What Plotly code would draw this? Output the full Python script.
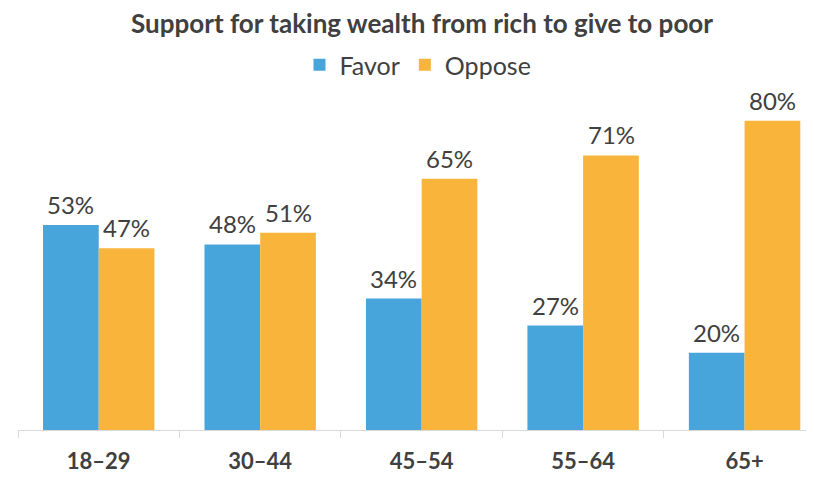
import plotly.graph_objects as go

# data
age_groups = ['18–29', '30–44', '45–54', '55–64', '65+']
favor = [53, 48, 34, 27, 20]
oppose = [47, 51, 65, 71, 80]

BLUE = '#47A5DB'
ORANGE = '#F9B43C'
TEXT = '#404040'
FONT = 'Lato'

# page body has an 8px margin, so the figure is drawn shifted by 8px
OFF = 8

fig = go.Figure()

fig.add_trace(go.Bar(x=age_groups, y=favor, name='Favor',
                     marker=dict(color=BLUE, line=dict(width=0))))
fig.add_trace(go.Bar(x=age_groups, y=oppose, name='Oppose',
                     marker=dict(color=ORANGE, line=dict(width=0))))

# value labels above bars (annotations so the gap above the bar can be set)
for values, shift in [(favor, -28), (oppose, 28)]:
    for cat, v in zip(age_groups, values):
        fig.add_annotation(x=cat, y=v, text=f'{v}%', showarrow=False,
                           xshift=shift, yanchor='bottom', yshift=4,
                           font=dict(size=24, color=TEXT, family=FONT))

fig.update_layout(
    width=814, height=477,
    margin=dict(l=18 - OFF, r=OFF, t=82 - OFF, b=47 + OFF, autoexpand=False),
    paper_bgcolor='white', plot_bgcolor='white',
    font=dict(family=FONT, color=TEXT),
    title=dict(text='<b>Support for taking wealth from rich to give to poor</b>',
               xref='container', x=(422 - OFF) / 814, xanchor='center',
               y=1 - (24 - OFF) / 477, yanchor='middle',
               font=dict(size=26, color=TEXT, family=FONT)),
    legend=dict(orientation='h', xref='container', x=(418 - OFF) / 814, xanchor='center',
                yref='container', y=1 - (65 - OFF) / 477, yanchor='middle',
                font=dict(size=25, color=TEXT, family=FONT),
                itemwidth=30, traceorder='normal'),
    barmode='group', bargap=0.31, bargroupgap=0,
)

fig.update_xaxes(range=[-0.5, 4.43], showline=True, linecolor='#D9D9D9', linewidth=1,
                 ticks='outside', tickson='boundaries', ticklen=7, tickcolor='#D9D9D9',
                 tickfont=dict(size=22, color=TEXT, family=FONT), ticklabelstandoff=12,
                 tickprefix='<b>', ticksuffix='</b>', showgrid=False, automargin=False)
fig.update_yaxes(range=[0, 90], visible=False, showgrid=False, automargin=False)

fig.write_html('out.html')
